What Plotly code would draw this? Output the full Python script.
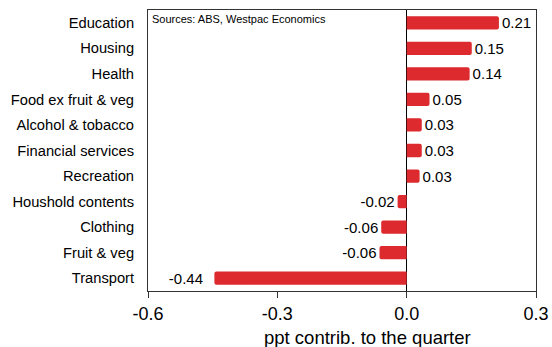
import plotly.graph_objects as go

categories = ["Education", "Housing", "Health", "Food ex fruit & veg", "Alcohol & tobacco",
              "Financial services", "Recreation", "Houshold contents", "Clothing",
              "Fruit & veg", "Transport"]
values = [0.214, 0.151, 0.146, 0.053, 0.035, 0.035, 0.030, -0.021, -0.059, -0.063, -0.446]
labels = ["0.21", "0.15", "0.14", "0.05", "0.03", "0.03", "0.03", "-0.02", "-0.06", "-0.06", "-0.44"]
x_ticks = [-0.6, -0.3, 0.0, 0.3]
x_tick_labels = ["-0.6", "-0.3", "0.0", "0.3"]
x_title = "ppt contrib. to the quarter"
source = "Sources: ABS, Westpac Economics"

FONT = "Liberation Sans, Arial, sans-serif"
RED = "#dc2a2e"

# the long Transport label sits a little further from its bar in the original
shown = [l + ("\u00a0\u00a0" if l == "-0.44" else "") for l in labels]

fig = go.Figure(go.Bar(
    x=values, y=categories, orientation="h",
    marker=dict(color=RED, line=dict(width=0), cornerradius=2),
    width=0.52,
    text=shown, textposition="outside", constraintext="none",
    textfont=dict(size=15, color="black", family=FONT),
    cliponaxis=False,
))

fig.update_layout(
    width=552, height=347,
    margin=dict(l=148, r=16, t=10, b=56, autoexpand=False),
    paper_bgcolor="white", plot_bgcolor="white",
    font=dict(family=FONT, color="black"),
    showlegend=False,
    xaxis=dict(range=[-0.6, 0.3], tickvals=x_ticks, ticktext=x_tick_labels, automargin=False,
               tickfont=dict(size=18), ticks="outside", ticklen=6, tickcolor="#333",
               ticklabelstandoff=0,
               showgrid=False, zeroline=True, zerolinecolor="black", zerolinewidth=1,
               showline=True, linecolor="#333", linewidth=1, mirror=True),
    yaxis=dict(categoryorder="array", categoryarray=categories[::-1], automargin=False,
               range=[-0.5, 10.5], tickfont=dict(size=14.7), ticks="",
               ticklabelstandoff=10,
               showgrid=False, showline=True, linecolor="#333", linewidth=1, mirror=True),
    annotations=[
        dict(text=source, xref="paper", yref="paper",
             x=0.005, y=0.995, xanchor="left", yanchor="top", showarrow=False,
             font=dict(size=11, family=FONT)),
        dict(text=x_title, xref="paper", yref="paper",
             x=0.567, y=-0.166, xanchor="center", yanchor="middle", showarrow=False,
             font=dict(size=18.5, family=FONT)),
    ],
)

fig.write_html("out.html")
